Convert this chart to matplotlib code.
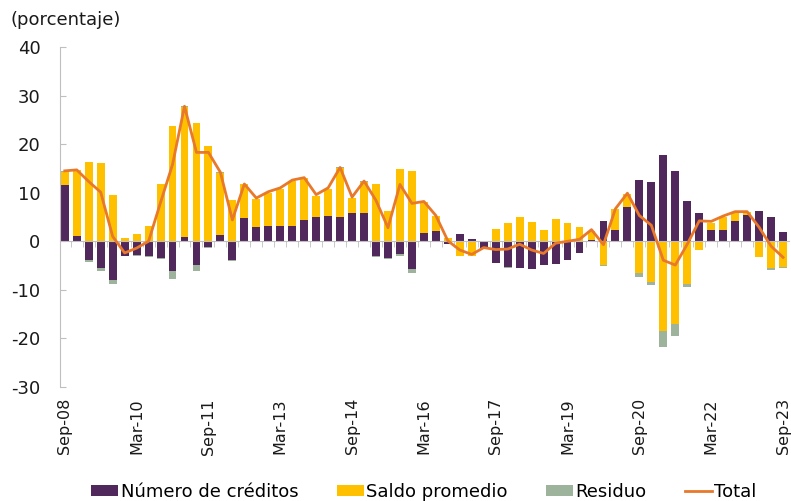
import numpy as np
import matplotlib
matplotlib.use('Agg')
import matplotlib.pyplot as plt
from matplotlib.patches import Patch
from matplotlib.lines import Line2D
from matplotlib.ticker import FixedLocator

# ==== Datos (trimestrales, Sep-08 a Sep-23) ====
creditos = [11.6, 1.1, -3.8, -5.4, -8.0, -3.0, -2.9, -3.1, -3.4, -6.2,
            0.8, -4.9, -1.2, 1.2, -3.8, 4.8, 2.9, 3.1, 3.1, 3.1,
            4.4, 4.9, 5.2, 5.0, 5.9, 5.8, -3.0, -3.4, -2.7, -5.7,
            1.8, 2.1, -0.6, 1.4, 0.4, -1.3, -4.4, -5.3, -5.6, -5.8,
            -4.9, -4.7, -3.8, -2.5, 0.3, 4.2, 2.3, 7.0, 12.7, 12.3,
            17.8, 14.4, 8.3, 5.9, 2.3, 2.3, 4.1, 5.4, 6.2, 5.1,
            1.9]
saldo = [2.6, 13.6, 16.4, 16.1, 9.6, 0.6, 1.4, 3.1, 11.8, 23.7,
         26.8, 24.3, 19.6, 12.8, 8.4, 7.0, 5.9, 6.8, 7.7, 9.4,
         8.6, 4.5, 5.5, 10.0, 3.1, 6.5, 11.8, 6.2, 14.8, 14.4,
         6.3, 3.2, 0.6, -3.1, -3.1, 0.0, 2.5, 3.7, 5.1, 4.0,
         2.3, 4.5, 3.8, 3.0, 1.8, -4.9, 4.4, 2.8, -6.6, -8.3,
         -18.4, -17.0, -8.7, -1.7, 1.5, 2.8, 1.7, 0.7, -3.2, -5.6,
         -5.3]
residuo = [0.2, 0.0, -0.5, -0.8, -0.7, -0.1, -0.1, -0.1, -0.3, -1.5,
           0.2, -1.2, -0.1, 0.2, -0.3, 0.0, 0.0, 0.0, 0.0, 0.0,
           0.0, 0.0, 0.0, 0.3, 0.0, 0.1, -0.3, -0.2, -0.3, -0.9,
           0.0, 0.0, 0.0, 0.0, 0.0, 0.0, 0.0, -0.1, 0.0, 0.0,
           0.0, 0.0, 0.0, 0.0, 0.0, -0.2, 0.0, 0.0, -0.7, -0.8,
           -3.3, -2.4, -0.7, 0.0, 0.0, 0.0, 0.0, 0.0, 0.0, -0.3,
           -0.2]
total = [14.5, 14.7, 12.3, 10.1, 1.0, -2.4, -1.4, 0.0, 8.0, 15.8,
         27.8, 18.3, 18.3, 14.2, 4.4, 11.8, 8.9, 10.2, 11.0, 12.6,
         13.1, 9.6, 11.0, 15.2, 9.1, 12.4, 8.4, 2.8, 11.7, 7.8,
         8.2, 5.3, 0.1, -1.8, -2.7, -1.3, -1.7, -1.6, -0.6, -1.8,
         -2.5, -0.4, 0.0, 0.4, 2.4, -0.7, 6.7, 9.9, 5.3, 3.3,
         -3.9, -4.9, -0.6, 4.2, 4.1, 5.2, 6.1, 6.1, 2.9, -1.0,
         -3.3]
etiquetas = ['Sep-08', 'Mar-10', 'Sep-11', 'Mar-13', 'Sep-14', 'Mar-16',
             'Sep-17', 'Mar-19', 'Sep-20', 'Mar-22', 'Sep-23']
pos_etiquetas = [0, 6, 12, 18, 24, 30, 36, 42, 48, 54, 60]
yticks = [40, 30, 20, 10, 0, -10, -20, -30]

COLORS = {
    'creditos': '#51285C',
    'saldo': '#FFC000',
    'residuo': '#9DB39B',
    'total': '#E8782A',
    'axis': '#BFBFBF',
    'text': '#1A1A1A',
}

W, H = 791, 501
fig = plt.figure(figsize=(W / 100, H / 100), dpi=100)
ax = fig.add_axes([60 / W, (H - 387) / H, 729 / W, 340 / H])

x = np.arange(len(total))
pos_base = np.zeros(len(x))
neg_base = np.zeros(len(x))
series = [(creditos, COLORS['creditos'], 'Número de créditos'),
          (saldo, COLORS['saldo'], 'Saldo promedio'),
          (residuo, COLORS['residuo'], 'Residuo')]
for vals, col, lab in series:
    v = np.array(vals)
    bottom = np.where(v >= 0, pos_base, neg_base)
    ax.bar(x, v, width=0.66, bottom=bottom, color=col, label=lab, zorder=2)
    pos_base = pos_base + np.clip(v, 0, None)
    neg_base = neg_base + np.clip(v, None, 0)

ax.plot(x, total, color=COLORS['total'], linewidth=2.0, zorder=3, label='Total')

ax.set_xlim(-0.4, 60.5)
ax.set_ylim(-30, 40)

# Eje Y
ax.set_yticks(yticks)
ax.set_yticklabels([str(t) for t in yticks], fontsize=13, color=COLORS['text'])
ax.tick_params(axis='y', direction='in', length=4, color=COLORS['axis'], pad=14)
for s in ['top', 'right']:
    ax.spines[s].set_visible(False)
ax.spines['left'].set_color(COLORS['axis'])

# Eje X en cero con marcas entre barras
ax.spines['bottom'].set_position(('data', 0))
ax.spines['bottom'].set_color(COLORS['axis'])
ax.set_xticks([])
ax.xaxis.set_minor_locator(FixedLocator(np.arange(len(x) - 1) + 0.5))
ax.tick_params(axis='x', which='minor', direction='out', length=4, color=COLORS['axis'])

# Etiquetas del eje X abajo
sec = ax.secondary_xaxis('bottom')
sec.set_xticks(pos_etiquetas)
sec.set_xticklabels(etiquetas, rotation=90, fontsize=11.5, color=COLORS['text'])
sec.tick_params(axis='x', length=0, pad=8)
sec.spines['bottom'].set_visible(False)

fig.text(10 / W, 1 - 20 / H, '(porcentaje)', fontsize=13, color=COLORS['text'],
         ha='left', va='center')

handles = [Patch(facecolor=COLORS['creditos']),
           Patch(facecolor=COLORS['saldo']),
           Patch(facecolor=COLORS['residuo']),
           Line2D([], [], color=COLORS['total'], linewidth=2.0)]
labels = ['Número de créditos', 'Saldo promedio', 'Residuo', 'Total']
fig.legend(handles, labels, loc='center', bbox_to_anchor=(424 / W, 1 - 492 / H),
           ncol=4, frameon=False, fontsize=13, handlelength=1.5, handleheight=0.6,
           handletextpad=0.15, columnspacing=2.1, borderaxespad=0)

fig.savefig('out.png', dpi=100, facecolor='white')
